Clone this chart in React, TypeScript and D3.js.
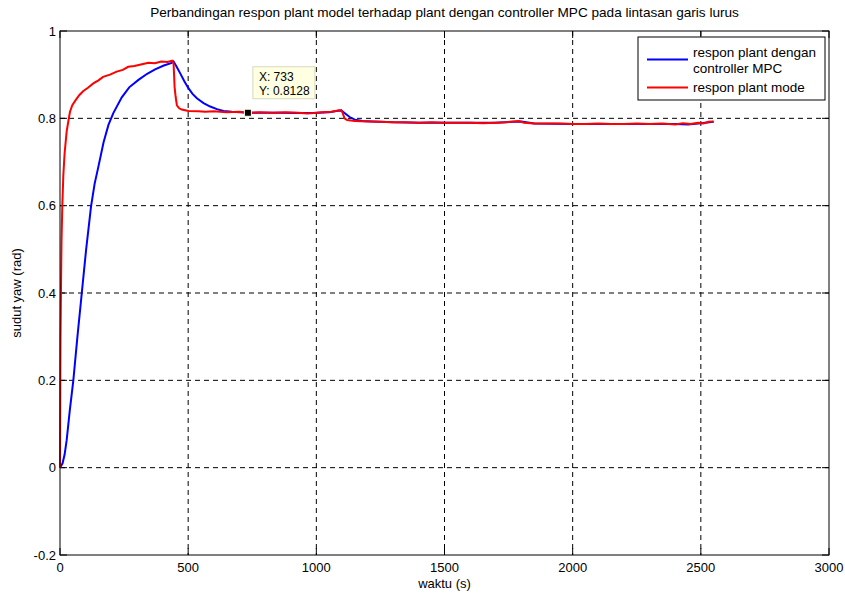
import React, { useEffect, useRef } from 'react';
import * as d3 from 'd3';

// series: [waktu (s), sudut yaw (rad)]
const redTime = [0, 1, 2, 4, 6, 9, 13, 18, 26, 33, 39, 48, 59, 75, 90, 109, 130, 150, 168, 195, 221, 245, 266, 290, 320, 345, 370, 395, 420, 437, 443, 445, 447, 451, 456, 465, 475, 501, 540, 566, 600, 650, 700, 733, 780, 830, 880, 930, 965, 990, 1020, 1060, 1085, 1097, 1103, 1110, 1120, 1150, 1200, 1250, 1300, 1350, 1400, 1450, 1500, 1550, 1600, 1650, 1700, 1740, 1770, 1790, 1810, 1850, 1900, 1950, 2000, 2050, 2100, 2150, 2200, 2250, 2300, 2350, 2400, 2430, 2460, 2490, 2510, 2530, 2550];
const redValues = [0, 0.15, 0.3, 0.42, 0.52, 0.6, 0.67, 0.72, 0.77, 0.795, 0.815, 0.83, 0.84, 0.853, 0.862, 0.87, 0.88, 0.887, 0.895, 0.9, 0.907, 0.911, 0.918, 0.92, 0.924, 0.927, 0.926, 0.93, 0.929, 0.932, 0.926, 0.9, 0.872, 0.85, 0.83, 0.823, 0.82, 0.817, 0.816, 0.815, 0.816, 0.814, 0.815, 0.8128, 0.814, 0.813, 0.814, 0.813, 0.811, 0.812, 0.814, 0.815, 0.818, 0.819, 0.812, 0.8, 0.796, 0.794, 0.793, 0.792, 0.791, 0.791, 0.79, 0.791, 0.79, 0.79, 0.79, 0.789, 0.79, 0.791, 0.793, 0.794, 0.79, 0.788, 0.788, 0.788, 0.787, 0.787, 0.788, 0.787, 0.787, 0.788, 0.787, 0.788, 0.786, 0.789, 0.787, 0.79, 0.788, 0.792, 0.793];

const blueTime = [0, 10, 18, 26, 38, 52, 68, 85, 102, 121, 135, 150, 170, 189, 208, 241, 270, 306, 340, 371, 405, 436, 443, 455, 469, 485, 501, 517, 534, 560, 586, 612, 638, 670, 703, 733, 780, 850, 930, 990, 1050, 1090, 1100, 1115, 1130, 1150, 1180, 1220, 1300, 1400, 1500, 1600, 1700, 1770, 1800, 1850, 2000, 2200, 2400, 2450, 2500, 2550];
const blueValues = [0, 0.01, 0.03, 0.063, 0.13, 0.2, 0.3, 0.4, 0.5, 0.598, 0.65, 0.69, 0.745, 0.785, 0.812, 0.848, 0.871, 0.888, 0.902, 0.912, 0.921, 0.927, 0.93, 0.918, 0.903, 0.885, 0.869, 0.856, 0.846, 0.835, 0.827, 0.821, 0.817, 0.815, 0.814, 0.8128, 0.813, 0.813, 0.812, 0.812, 0.814, 0.818, 0.817, 0.81, 0.803, 0.797, 0.794, 0.793, 0.791, 0.79, 0.79, 0.79, 0.79, 0.792, 0.793, 0.788, 0.787, 0.787, 0.787, 0.786, 0.789, 0.792];

const xTicks = [0, 500, 1000, 1500, 2000, 2500, 3000];
const yTicks = [-0.2, 0, 0.2, 0.4, 0.6, 0.8, 1];

const legendLabels = [['respon plant dengan', 'controller MPC'], ['respon plant mode']];
const tipX = 733;
const tipY = 0.8128;

const FONT = 'Liberation Sans, Arial, sans-serif';

const App = () => {
  const ref = useRef<SVGSVGElement | null>(null);

  useEffect(() => {
    const svg = d3.select(ref.current);
    svg.selectAll('*').remove();

    const W = 845, H = 595;
    const margin = { top: 31, right: 16, bottom: 40, left: 60 };
    const w = W - margin.left - margin.right;
    const h = H - margin.top - margin.bottom;

    const x = d3.scaleLinear().domain([0, 3000]).range([0, w]);
    const y = d3.scaleLinear().domain([-0.2, 1]).range([h, 0]);

    svg.append('rect').attr('width', W).attr('height', H).attr('fill', '#fff');

    const g = svg.append('g').attr('transform', `translate(${margin.left},${margin.top})`);

    // grid
    g.selectAll('.gx').data(xTicks.slice(1, -1)).enter().append('line')
      .attr('x1', d => x(d)).attr('x2', d => x(d)).attr('y1', 0).attr('y2', h)
      .attr('stroke', '#000').attr('stroke-dasharray', '5,4').attr('stroke-width', 1);
    g.selectAll('.gy').data(yTicks.slice(1, -1)).enter().append('line')
      .attr('y1', d => y(d)).attr('y2', d => y(d)).attr('x1', 0).attr('x2', w)
      .attr('stroke', '#000').attr('stroke-dasharray', '5,4').attr('stroke-width', 1);

    // ticks, inward on all four sides
    const tl = 7;
    xTicks.forEach(t => {
      g.append('line').attr('x1', x(t)).attr('x2', x(t)).attr('y1', h).attr('y2', h - tl).attr('stroke', '#000');
      g.append('line').attr('x1', x(t)).attr('x2', x(t)).attr('y1', 0).attr('y2', tl).attr('stroke', '#000');
    });
    yTicks.forEach(t => {
      g.append('line').attr('y1', y(t)).attr('y2', y(t)).attr('x1', 0).attr('x2', tl).attr('stroke', '#000');
      g.append('line').attr('y1', y(t)).attr('y2', y(t)).attr('x1', w).attr('x2', w - tl).attr('stroke', '#000');
    });

    g.selectAll('.xl').data(xTicks).enter().append('text')
      .attr('x', d => x(d)).attr('y', h + 17).attr('text-anchor', 'middle')
      .attr('font-family', FONT).attr('font-size', 13).text(d => String(d));
    g.selectAll('.yl').data(yTicks).enter().append('text')
      .attr('x', -4).attr('y', d => y(d) + 4.5).attr('text-anchor', 'end')
      .attr('font-family', FONT).attr('font-size', 13).text(d => String(+d.toFixed(1)));

    const mkPath = (ts: number[], vs: number[]) =>
      d3.line<number>().x(i => x(ts[i])).y(i => y(vs[i]))(d3.range(ts.length));

    g.append('path').attr('d', mkPath(blueTime, blueValues))
      .attr('fill', 'none').attr('stroke', '#0000ff').attr('stroke-width', 2);
    g.append('path').attr('d', mkPath(redTime, redValues))
      .attr('fill', 'none').attr('stroke', '#ff0000').attr('stroke-width', 2);

    // frame
    g.append('rect').attr('width', w).attr('height', h)
      .attr('fill', 'none').attr('stroke', '#000').attr('stroke-width', 1);

    // data tip
    const mx = x(tipX), my = y(tipY);
    g.append('rect').attr('x', mx - 3.5).attr('y', my - 3.5).attr('width', 7).attr('height', 7)
      .attr('fill', '#000').attr('stroke', '#ffffe1').attr('stroke-width', 1);
    const tip = g.append('g').attr('transform', `translate(${mx + 5},${my - 46})`);
    tip.append('rect').attr('width', 62).attr('height', 32)
      .attr('fill', '#ffffe1').attr('stroke', '#d8d8c0').attr('stroke-width', 1);
    tip.append('text').attr('x', 6).attr('y', 14).attr('font-family', FONT).attr('font-size', 12).text(`X: ${tipX}`);
    tip.append('text').attr('x', 6).attr('y', 28.5).attr('font-family', FONT).attr('font-size', 12).text(`Y: ${tipY}`);

    // legend
    const lg = svg.append('g').attr('transform', 'translate(638,37)');
    lg.append('rect').attr('width', 187).attr('height', 63).attr('fill', '#fff').attr('stroke', '#000');
    const colors = ['#0000ff', '#ff0000'];
    const rows = [22.5, 50.5];
    legendLabels.forEach((lbl, i) => {
      lg.append('line').attr('x1', 9).attr('x2', 50).attr('y1', rows[i]).attr('y2', rows[i])
        .attr('stroke', colors[i]).attr('stroke-width', 2);
      lbl.forEach((s, j) => {
        lg.append('text').attr('x', 55).attr('y', (i === 0 ? 20 : 55) + j * 15.7)
          .attr('font-family', FONT).attr('font-size', 13.5).text(s);
      });
    });

    svg.append('text').attr('x', margin.left + w / 2).attr('y', 17).attr('text-anchor', 'middle')
      .attr('font-family', FONT).attr('font-size', 13.6)
      .text('Perbandingan respon plant model terhadap plant dengan controller MPC pada lintasan garis lurus');
    svg.append('text').attr('x', margin.left + w / 2).attr('y', 588).attr('text-anchor', 'middle')
      .attr('font-family', FONT).attr('font-size', 13).text('waktu (s)');
    svg.append('text').attr('transform', `translate(21,${margin.top + h / 2}) rotate(-90)`)
      .attr('text-anchor', 'middle').attr('font-family', FONT).attr('font-size', 13).text('sudut yaw (rad)');
  }, []);

  return (
    <div style={{ position: 'absolute', left: 0, top: 0 }}>
      <svg ref={ref} width={845} height={595} />
    </div>
  );
};

export default App;
